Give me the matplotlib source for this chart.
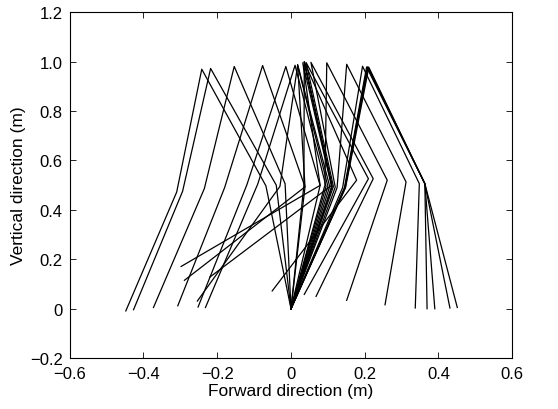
import matplotlib
matplotlib.use("Agg")
import matplotlib.pyplot as plt
from matplotlib.ticker import FuncFormatter

plt.rcParams['font.family'] = ['Liberation Sans', 'DejaVu Sans']

# stick-figure snapshots of the leg during one step (m)
# stance foot stays at the origin
stance_foot_x = 0.0
stance_foot_y = 0.0

hip_x = [-0.242, -0.218, -0.154, -0.077, -0.014, 0.011, 0.018, 0.018, 0.032, 0.036,
         0.036, 0.041, 0.054, 0.097, 0.151, 0.194, 0.205, 0.207, 0.209, 0.211]
hip_y = [0.969, 0.972, 0.980, 0.984, 0.980, 0.985, 0.985, 0.988, 0.995, 0.999,
         0.999, 0.996, 0.997, 0.995, 0.989, 0.981, 0.978, 0.978, 0.978, 0.977]

stance_knee_x = [-0.068, -0.040, -0.016, 0.038, 0.079, 0.095, 0.100, 0.105, 0.110, 0.112,
                 0.035, 0.115, 0.120, 0.092, 0.125, 0.140, 0.145, 0.146, 0.147, 0.148]
stance_knee_y = [0.497, 0.500, 0.506, 0.493, 0.499, 0.495, 0.495, 0.495, 0.495, 0.495,
                 0.500, 0.495, 0.492, 0.500, 0.490, 0.490, 0.490, 0.490, 0.490, 0.490]

swing_knee_x = [-0.310, -0.294, -0.235, -0.180, -0.120, -0.090, -0.030, 0.038, 0.079, 0.110,
                0.178, 0.210, 0.223, 0.261, 0.312, 0.348, 0.363, 0.363, 0.363, 0.363]
swing_knee_y = [0.472, 0.475, 0.486, 0.490, 0.500, 0.505, 0.495, 0.493, 0.499, 0.499,
                0.520, 0.526, 0.526, 0.520, 0.513, 0.506, 0.506, 0.506, 0.506, 0.506]

swing_foot_x = [-0.448, -0.427, -0.373, -0.307, -0.252, -0.232, -0.254, -0.289, -0.298, -0.220,
                -0.051, 0.036, 0.068, 0.151, 0.255, 0.337, 0.369, 0.390, 0.431, 0.451]
swing_foot_y = [-0.009, -0.004, 0.005, 0.012, 0.007, 0.005, 0.031, 0.115, 0.171, 0.128,
                0.072, 0.058, 0.050, 0.034, 0.016, 0.003, 0.000, 0.000, 0.003, 0.005]

fig = plt.figure(figsize=(5.58, 4.10), dpi=100)
ax = fig.add_axes([0.125, 0.124, 0.793, 0.844])

for i in range(len(hip_x)):
    xs = [swing_foot_x[i], swing_knee_x[i], hip_x[i], stance_knee_x[i], stance_foot_x]
    ys = [swing_foot_y[i], swing_knee_y[i], hip_y[i], stance_knee_y[i], stance_foot_y]
    ax.plot(xs, ys, color='black', lw=0.9)

ax.set_xlim(-0.6, 0.6)
ax.set_ylim(-0.2, 1.2)
ax.set_xticks([-0.6, -0.4, -0.2, 0, 0.2, 0.4, 0.6])
ax.set_yticks([-0.2, 0, 0.2, 0.4, 0.6, 0.8, 1.0, 1.2])


def fmt(v, pos):
    if abs(v) < 1e-9:
        return '0'
    return ('%.1f' % v).replace('-', '\u2212')


ax.xaxis.set_major_formatter(FuncFormatter(fmt))
ax.yaxis.set_major_formatter(FuncFormatter(fmt))
ax.tick_params(direction='in', top=True, right=True, labelsize=12, length=4, width=0.6)
ax.tick_params(axis='x', pad=6)
ax.tick_params(axis='y', pad=5)
for s in ax.spines.values():
    s.set_linewidth(0.8)

ax.set_xlabel('Forward direction (m)', fontsize=12.5, labelpad=1)
ax.set_ylabel('Vertical direction (m)', fontsize=12.5, labelpad=3)

fig.savefig('out.png', dpi=100)
